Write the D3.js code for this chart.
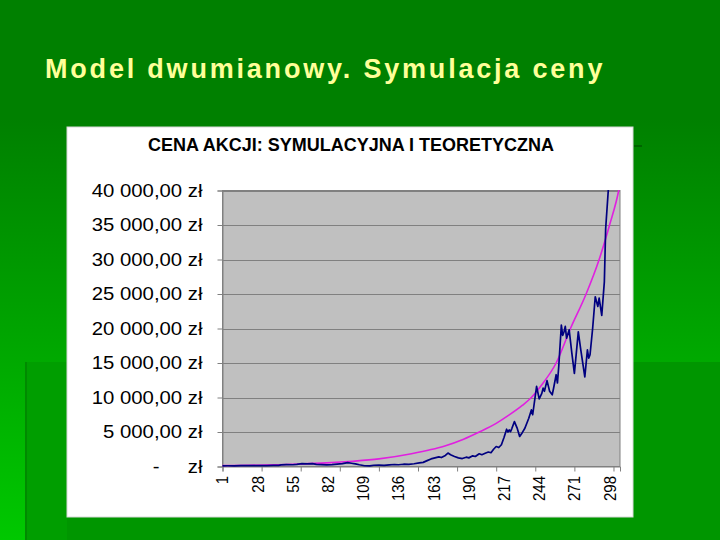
<!DOCTYPE html>
<html>
<head>
<meta charset="utf-8">
<script src="https://cdn.jsdelivr.net/npm/d3@7"></script>
<style>
html,body{margin:0;padding:0;background:#008000;}
svg{display:block;}
text{font-family:"Liberation Sans",Arial,sans-serif;}
</style>
</head>
<body>
<svg id="c" width="720" height="540"></svg>
<script>
// ---------- data ----------
const slideTitle = "Model dwumianowy. Symulacja ceny";
const chartTitle = "CENA AKCJI: SYMULACYJNA I TEORETYCZNA";
const categoryCount = 306;
const xLabelCats = [1, 28, 55, 82, 109, 136, 163, 190, 217, 244, 271, 298];
const xTickCats = [1, 31, 61, 91, 121, 151, 181, 211, 241, 271, 301];
const yTickValues = [0, 5000, 10000, 15000, 20000, 25000, 30000, 35000, 40000];
const yTickLabels = ["-     zł", "5 000,00 zł", "10 000,00 zł", "15 000,00 zł", "20 000,00 zł",
                     "25 000,00 zł", "30 000,00 zł", "35 000,00 zł", "40 000,00 zł"];

// simulated price (navy) – readings: category index / value
const simCats = [1,5,10,15,20,25,30,35,40,44,46,50,55,58,62,66,70,73,77,81,85,89,93,97,100,103,106,110,114,117,121,125,129,133,136,140,144,148,152,155,158,161,164,167,169,172,174,176,179,182,185,188,190,193,195,198,200,203,205,207,209,211,213,215,217,219,220,221,222,223,225,227,229,231,233,236,238,239,242,244,246,247,248,250,252,254,255,257,258,259,261,262,263,264,265,267,269,271,272,274,276,279,281,282,283,285,287,289,290,292,294,295,297,298,300,303,306];
const simVals = [100,110,105,120,115,130,125,140,150,170,240,260,250,300,420,380,420,300,270,240,280,350,420,560,470,380,250,110,90,180,200,170,230,290,250,330,300,400,520,600,850,1100,1250,1400,1300,1600,1950,1700,1450,1250,1150,1350,1250,1550,1450,1850,1700,1950,2100,2000,2500,2900,2750,3150,4200,5400,5000,5300,5050,5500,6500,5600,4350,4900,5550,7000,8200,7500,11600,9800,10600,11350,10900,12450,10900,10400,11300,13300,12100,14500,20500,19000,19500,20300,18600,19800,16500,13500,15500,19500,16800,13000,16900,15700,16200,20000,24600,23200,24400,21900,26800,34500,40000,42500,46000,52000,56000];

// theoretical price (magenta) – readings
const theoCats = [1,21,41,61,81,101,121,146,161,171,186,198,211,221,231,238,246,257,268,280,290,298,305,306];
const theoVals = [120,175,250,360,520,760,1100,1850,2450,2950,3960,5000,6250,7470,8850,10000,11850,15000,20000,25000,30000,35000,40000,41000];

// ---------- drawing ----------
const svg = d3.select("#c");
const defs = svg.append("defs");
const bg = defs.append("linearGradient").attr("id","bg").attr("x1",0).attr("y1",0).attr("x2",0).attr("y2",1);
bg.append("stop").attr("offset","0").attr("stop-color","#008000");
bg.append("stop").attr("offset","0.22").attr("stop-color","#008000");
bg.append("stop").attr("offset","1").attr("stop-color","#00c800");
svg.append("rect").attr("width",720).attr("height",540).attr("fill","url(#bg)");
svg.append("rect").attr("x",25).attr("y",362).attr("width",695).attr("height",178).attr("fill","#009600");
svg.append("rect").attr("x",25).attr("y",362).attr("width",42).attr("height",178).attr("fill","#009e00");
svg.append("rect").attr("x",25).attr("y",362).attr("width",2).attr("height",178).attr("fill","#008a00");
svg.append("rect").attr("x",634).attr("y",145).attr("width",8).attr("height",2).attr("fill","#006400");

svg.append("text").attr("x",45).attr("y",78)
  .attr("font-size",27).attr("font-weight","bold").attr("letter-spacing",2.8)
  .attr("fill","#FFFF99").text(slideTitle);

// white panel
svg.append("rect").attr("x",67).attr("y",127).attr("width",566).attr("height",390)
  .attr("fill","#ffffff").attr("stroke","#d8d8d8").attr("stroke-width",1);

svg.append("text").attr("x",351).attr("y",151).attr("text-anchor","middle")
  .attr("font-size",18).attr("font-weight","bold").attr("fill","#000").text(chartTitle);

const x = d3.scaleLinear().domain([1, categoryCount]).range([222.5, 620]);
const y = d3.scaleLinear().domain([0, 40000]).range([466.5, 190.5]);

// plot area
svg.append("rect").attr("x",222.5).attr("y",190.5).attr("width",397.5).attr("height",276)
  .attr("fill","#C0C0C0");
svg.append("g").selectAll("line").data(yTickValues.slice(1)).join("line")
  .attr("x1",222.5).attr("x2",620).attr("y1",d=>Math.round(y(d))+0.5).attr("y2",d=>Math.round(y(d))+0.5)
  .attr("stroke","#808080").attr("stroke-width",1);
svg.append("rect").attr("x",222.5).attr("y",190.5).attr("width",397.5).attr("height",276)
  .attr("fill","none").attr("stroke","#808080").attr("stroke-width",1);

// y axis
const sx = 1.13;
const yAxis = d3.axisLeft(y).tickValues(yTickValues).tickSize(5).tickPadding(15)
  .tickFormat((d,i)=>yTickLabels[i]);
const gy = svg.append("g").attr("transform","translate(222.5,0)").call(yAxis);
gy.select(".domain").attr("stroke","#808080");
gy.selectAll(".tick line").attr("stroke","#808080");
gy.selectAll(".tick text").attr("font-size",18).attr("fill","#000")
  .attr("font-family","'Liberation Sans',Arial,sans-serif").style("white-space","pre")
  .attr("x", -20/sx).attr("transform",`scale(${sx},1)`);

// x axis ticks
const xAxisTicks = d3.axisBottom(x).tickValues(xTickCats).tickSize(5).tickFormat("");
const gx = svg.append("g").attr("transform","translate(0,466.5)").call(xAxisTicks);
gx.select(".domain").attr("stroke","#808080");
gx.selectAll(".tick line").attr("stroke","#808080");
// x labels
svg.append("g").selectAll("text").data(xLabelCats).join("text")
  .attr("transform",d=>`translate(${x(d)},476) scale(${sx},1) rotate(-90)`)
  .attr("text-anchor","end").attr("dy","0.35em")
  .attr("font-size",15).attr("fill","#000").text(d=>d);

// clip
defs.append("clipPath").attr("id","plotclip").append("rect")
  .attr("x",222).attr("y",190).attr("width",399).attr("height",278);

const plot = svg.append("g").attr("clip-path","url(#plotclip)");
const theo = theoCats.map((c,i)=>[c, theoVals[i]]);
const sim = simCats.map((c,i)=>[c, simVals[i]]);
plot.append("path").datum(theo)
  .attr("d", d3.line().x(d=>x(d[0])).y(d=>y(d[1])).curve(d3.curveMonotoneX))
  .attr("fill","none").attr("stroke","#E020E0").attr("stroke-width",1.6);
plot.append("path").datum(sim)
  .attr("d", d3.line().x(d=>x(d[0])).y(d=>y(d[1])))
  .attr("fill","none").attr("stroke","#000080").attr("stroke-width",1.7).attr("stroke-linejoin","round");
</script>
</body>
</html>
